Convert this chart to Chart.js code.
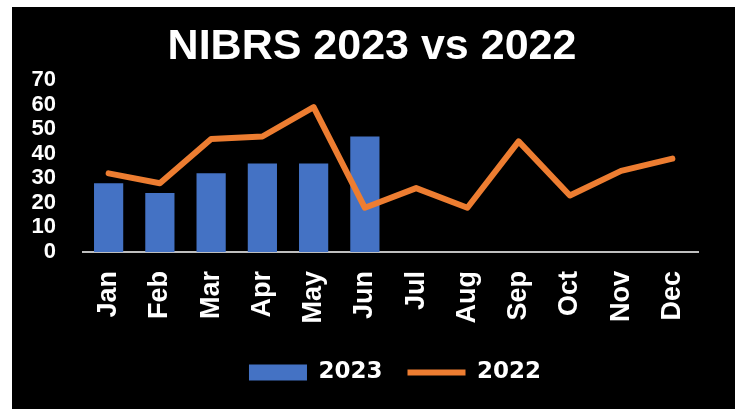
<!DOCTYPE html>
<html>
<head>
<meta charset="utf-8">
<script src="https://cdn.jsdelivr.net/npm/chart.js@4.4.0/dist/chart.umd.min.js"></script>
<style>
  html, body { margin: 0; padding: 0; background: #fff; overflow: hidden; }
  #moldura { position: absolute; left: 12px; top: 7px; width: 723px; height: 402px; background: #000; }
</style>
</head>
<body>
<div id="moldura"><canvas id="grafico"></canvas></div>
<script>
const meses = ['Jan', 'Feb', 'Mar', 'Apr', 'May', 'Jun', 'Jul', 'Aug', 'Sep', 'Oct', 'Nov', 'Dec'];
const valores2023 = [28, 24, 32, 36, 36, 47];
const valores2022 = [32, 28, 46, 47, 59, 18, 26, 18, 45, 23, 33, 38];
const ticksY = [0, 10, 20, 30, 40, 50, 60, 70];

const AZUL = '#4472C4';
const LARANJA = '#ED7D31';
const FONTE = "'Liberation Sans', Arial, sans-serif";

Chart.defaults.color = '#fff';
Chart.defaults.font.family = FONTE;
Chart.defaults.font.weight = 'bold';

// desloca titulo e legenda na horizontal (o grafico original nao centraliza os dois no mesmo eixo)
const deslocarCaixas = {
    id: 'deslocarCaixas',
    afterLayout(chart) {
        const { titulo = 17, legenda = 43 } = chart.options.plugins.deslocarCaixas || {};
        chart.titleBlock.left += titulo;
        chart.titleBlock.right += titulo;
        chart.legend.left += legenda;
        chart.legend.right += legenda;
    }
};

new Chart(document.getElementById('grafico'), {
    type: 'bar',
    data: {
        labels: meses,
        datasets: [
            {
                type: 'bar',
                label: '2023',
                data: valores2023,
                backgroundColor: AZUL,
                borderWidth: 0,
                barPercentage: 0.57,
                categoryPercentage: 1,
                pointStyle: 'rect',
                order: 1
            },
            {
                type: 'line',
                label: '2022',
                data: valores2022,
                borderColor: LARANJA,
                backgroundColor: LARANJA,
                borderWidth: 6,
                borderCapStyle: 'round',
                borderJoinStyle: 'round',
                tension: 0,
                fill: false,
                pointRadius: 0,
                pointHoverRadius: 0,
                pointStyle: 'line',
                order: 0
            }
        ]
    },
    options: {
        responsive: true,
        maintainAspectRatio: false,
        animation: false,
        layout: { padding: { top: 0, left: 0, right: 37, bottom: 15 } },
        plugins: {
            deslocarCaixas: { titulo: 17, legenda: 40 },
            title: {
                display: true,
                text: 'NIBRS 2023 vs 2022',
                color: '#fff',
                font: { family: FONTE, size: 43, weight: 'bold', lineHeight: 1 },
                padding: { top: 19, bottom: 11 }
            },
            legend: {
                position: 'bottom',
                labels: {
                    usePointStyle: true,
                    pointStyleWidth: 58,
                    boxHeight: 16,
                    padding: 25,
                    color: '#fff',
                    font: { family: "'DejaVu Sans', sans-serif", size: 23, weight: 'bold' },
                    sort: (a, b) => a.datasetIndex - b.datasetIndex
                }
            },
            tooltip: { enabled: false }
        },
        scales: {
            x: {
                grid: { display: false, drawTicks: false },
                border: { display: true, color: '#bfbfbf', width: 2 },
                ticks: {
                    autoSkip: false,
                    minRotation: 90,
                    maxRotation: 90,
                    padding: 19,
                    color: '#fff',
                    font: { family: FONTE, size: 27, weight: 'bold' }
                },
                afterFit: escala => { escala.height = 84; }
            },
            y: {
                min: 0,
                max: 70,
                grid: { display: false, drawTicks: false },
                border: { display: false },
                ticks: {
                    autoSkip: false,
                    padding: 27,
                    color: '#fff',
                    font: { family: FONTE, size: 22, weight: 'bold' }
                },
                afterBuildTicks: escala => { escala.ticks = ticksY.map(v => ({ value: v })); },
                afterFit: escala => { escala.width = 71; }
            }
        }
    },
    plugins: [deslocarCaixas]
});
</script>
</body>
</html>
